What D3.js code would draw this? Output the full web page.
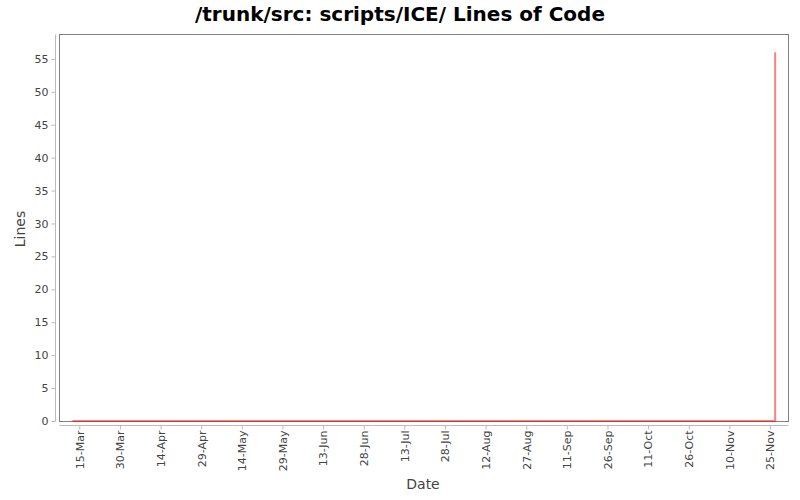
<!DOCTYPE html>
<html><head><meta charset="utf-8">
<script src="https://cdn.jsdelivr.net/npm/d3@7"></script>
<style>body{margin:0;background:#fff;} svg{display:block;font-family:"DejaVu Sans",sans-serif;}</style>
</head><body>
<svg id="c" width="800" height="500"></svg>
<script>
const title = "/trunk/src: scripts/ICE/ Lines of Code";
const dates = ["2007-03-12T10:00", "2007-11-26T22:00", "2007-11-26T22:00"];
const lines = [0, 0, 56];
const tickLabels = ["15-Mar","30-Mar","14-Apr","29-Apr","14-May","29-May","13-Jun","28-Jun","13-Jul","28-Jul","12-Aug","27-Aug","11-Sep","26-Sep","11-Oct","26-Oct","10-Nov","25-Nov"];
const tickDates = ["2007-03-15","2007-03-30","2007-04-14","2007-04-29","2007-05-14","2007-05-29","2007-06-13","2007-06-28","2007-07-13","2007-07-28","2007-08-12","2007-08-27","2007-09-11","2007-09-26","2007-10-11","2007-10-26","2007-11-10","2007-11-25"];
const yTicks = [0,5,10,15,20,25,30,35,40,45,50,55];

const svg = d3.select("#c");
const L = 59.5, R = 788.5, T = 34.5, B = 421.5;
const parse = s => new Date(s + (s.length === 10 ? "T00:00Z" : "Z"));
const x = d3.scaleUtc().domain([parse("2007-03-07T16:30"), parse("2007-12-01T20:00")]).range([L, R]);
const y = d3.scaleLinear().domain([0, 58.7]).range([B - 0.5, T]);

svg.append("text").attr("x", 400).attr("y", 21).attr("text-anchor", "middle")
  .attr("font-size", 20).attr("font-weight", "bold").attr("fill", "#000").text(title);

svg.append("rect").attr("x", L).attr("y", T).attr("width", R - L).attr("height", B - T)
  .attr("fill", "#fff").attr("stroke", "#808080").attr("stroke-width", 1);

// Y axis
const yAxis = svg.append("g").attr("transform", "translate(55.5,0)")
  .call(d3.axisLeft(y).tickValues(yTicks).tickSize(4).tickPadding(3).tickFormat(d3.format("d")));
yAxis.select(".domain").attr("stroke", "#bbb").attr("d", `M0,${T}V${B}`);
yAxis.selectAll(".tick line").attr("stroke", "#bbb");
yAxis.selectAll(".tick text").attr("fill", "#444").attr("font-size", 11).attr("font-family", "DejaVu Sans");

// X axis
const xAxis = svg.append("g").attr("transform", "translate(0,425.5)")
  .call(d3.axisBottom(x).tickValues(tickDates.map(parse)).tickSize(4)
    .tickFormat((d, i) => tickLabels[i]));
xAxis.select(".domain").attr("stroke", "#bbb").attr("d", `M${L},0H${R}`);
xAxis.selectAll(".tick line").attr("stroke", "#bbb");
xAxis.selectAll(".tick text").attr("fill", "#444").attr("font-size", 11).attr("font-family", "DejaVu Sans")
  .attr("text-anchor", "end").attr("transform", "translate(0,5) rotate(-90)")
  .attr("x", 0).attr("y", 0).attr("dy", "0.35em");

// line
const pts = dates.map((d, i) => [parse(d), lines[i]]);
svg.append("path").datum(pts)
  .attr("d", d3.line().x(d => x(d[0])).y(d => y(d[1])))
  .attr("fill", "none").attr("stroke", "rgba(255,0,0,0.5)").attr("stroke-width", 2);

// axis labels
svg.append("text").attr("x", 423).attr("y", 489).attr("text-anchor", "middle")
  .attr("font-size", 14).attr("fill", "#444").text("Date");
svg.append("text").attr("transform", "translate(25,229) rotate(-90)").attr("text-anchor", "middle")
  .attr("font-size", 14).attr("fill", "#444").text("Lines");
</script>
</body></html>
